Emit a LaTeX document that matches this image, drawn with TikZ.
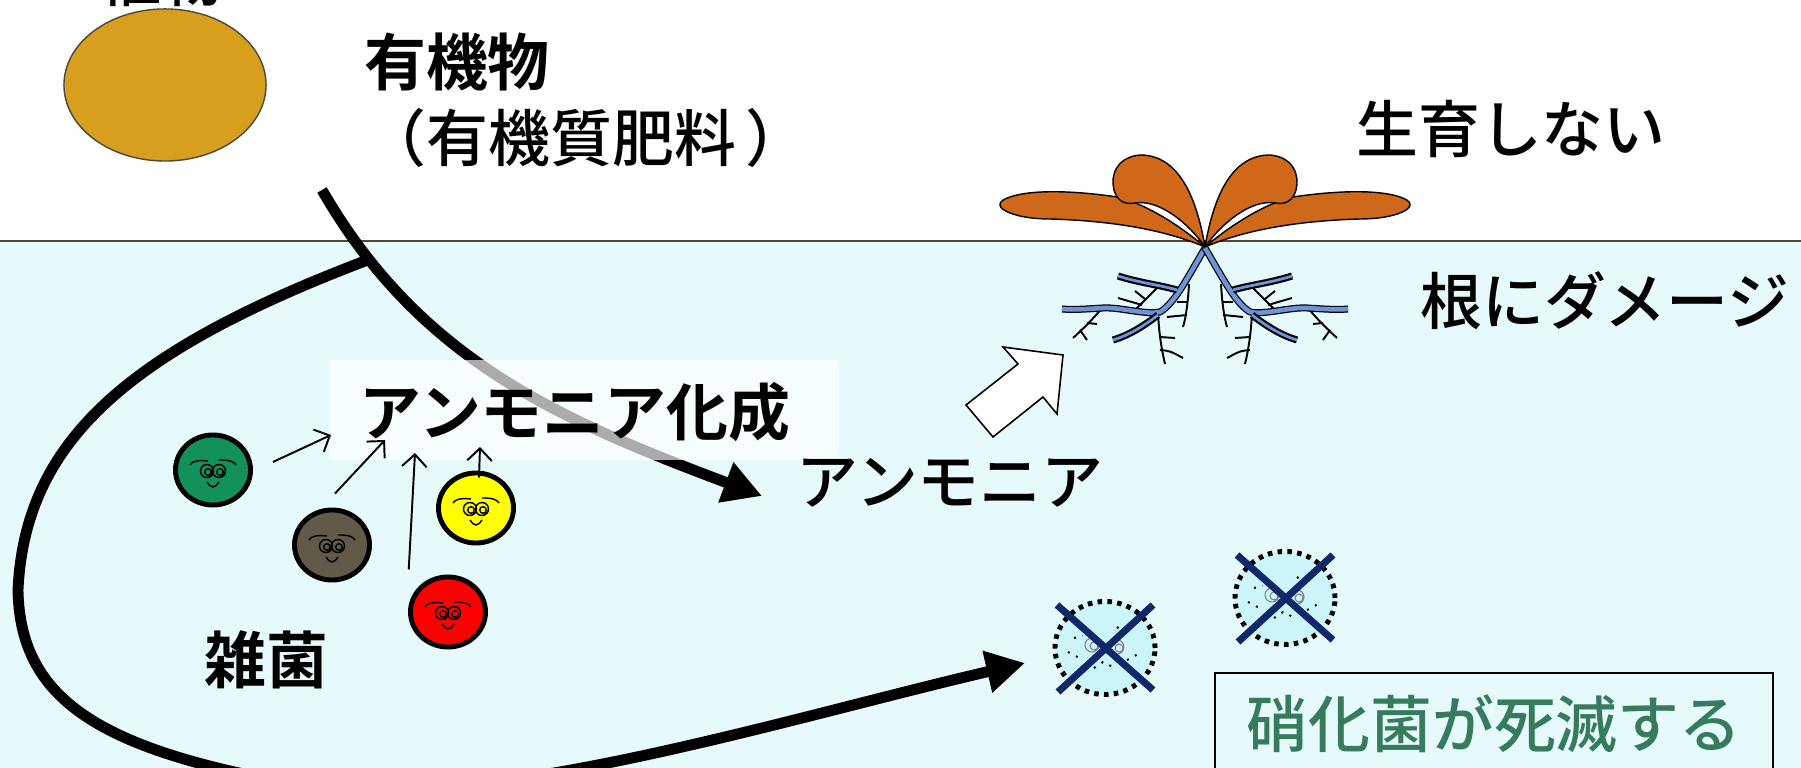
\documentclass[tikz,border=0pt]{standalone}
\usepackage{fontspec}
\newfontfamily\jp{Noto Sans CJK JP Medium}
\newfontfamily\jpheavy{Noto Sans CJK JP Bold}
\usetikzlibrary{arrows.meta,shapes.geometric}

\definecolor{soil}{HTML}{E6FAFC}
\definecolor{horizon}{HTML}{4A4A3C}
\definecolor{compost}{HTML}{D89E1E}
\definecolor{leafbrown}{HTML}{CF6818}
\definecolor{rootblue}{HTML}{6E94D8}
\definecolor{germgreen}{HTML}{12915A}
\definecolor{germbrown}{HTML}{625A48}
\definecolor{germred}{HTML}{FF0000}
\definecolor{germyellow}{HTML}{FFFF00}
\definecolor{deadfill}{HTML}{CCF5FA}
\definecolor{navy}{HTML}{10286A}
\definecolor{deadgreen}{HTML}{367B5B}

% one half of the seedling, leaves and roots, drawn from the stem base
\newcommand{\halfplant}{%
  \draw[leaf] (0,0) .. controls (-35,-15) and (-85,-26) .. (-155,-28)
    .. controls (-195,-28) and (-220,-42) .. (-195,-50)
    .. controls (-175,-57) and (-135,-57) .. (-88,-50)
    .. controls (-55,-42) and (-20,-17) .. (0,0) -- cycle;
  \draw[leaf] (0,0) .. controls (-8,-47) and (-25,-92) .. (-65,-92)
    .. controls (-88,-90) and (-95,-72) .. (-91,-57)
    .. controls (-88,-46) and (-80,-42) .. (-70,-44)
    .. controls (-45,-48) and (-15,-22) .. (0,0) -- cycle;
  \draw[twig] (-47,66) .. controls (-46,85) and (-44,100) .. (-40,117);
  \draw[twig] (-45,90) -- (-30,91);
  \draw[twig] (-45,103) .. controls (-35,104) .. (-22,111);
  \draw[twig] (-16,37) .. controls (-17,55) and (-19,70) .. (-22,80);
  \draw[twig] (-17,55) -- (-28,55);
  \draw[twig] (-18,68) -- (-38,70);
  \draw[twig] (-48,41) -- (-73,66);
  \draw[twig] (-60,52) -- (-70,44);
  \draw[twig] (-63,58) -- (-87,51);
  \draw[twig] (-103,61) .. controls (-112,72) and (-122,82) .. (-132,91);
  \draw[twig] (-118,76) -- (-108,77);
  \draw[twig] (-125,83) -- (-118,93);
  \draw[twig] (-87,29) .. controls (-82,33) .. (-78,34);
  \draw[root] (0,1) .. controls (-10,18) and (-20,36) .. (-27,46)
    .. controls (-33,55) and (-40,62) .. (-45,65)
    .. controls (-60,68) and (-85,60) .. (-102,61)
    .. controls (-118,62) and (-132,63) .. (-143,62);
  \draw[root, line width=0.8pt, preaction={line width=1.4pt}] (-47,68) .. controls (-60,78) and (-75,88) .. (-92,93);
  \draw[root, line width=0.8pt, preaction={line width=1.4pt}] (-28,43) .. controls (-45,38) and (-65,36) .. (-87,29);
}

\begin{document}
\begin{tikzpicture}
[
 x=0.01cm, y=-0.01cm,
 >={Straight Barb[length=3.5pt,width=7pt]},
 every node/.style={inner sep=0pt},
 txt/.style={font=\jp\fontsize{17.6pt}{21pt}\selectfont},
 txtb/.style={font=\jpheavy\fontsize{17.6pt}{21pt}\selectfont},
 bigarrow/.style={line width=3.1pt, -{Triangle[length=11pt,width=11.5pt]}},
 link/.style={line width=0.55pt, ->},
 body/.style={ellipse, draw, line width=1.4pt, minimum width=0.75cm, minimum height=0.70cm},
 face/.style={line width=0.4pt},
 deadbody/.style={ellipse, draw, fill=deadfill, line width=1.4pt, dash pattern=on 1.3pt off 1.5pt, minimum width=1.0cm, minimum height=0.93cm},
 cross/.style={draw=navy, line width=2pt},
 leaf/.style={draw=black, fill=leafbrown, line width=0.4pt},
 root/.style={draw=rootblue, line width=1.3pt, preaction={draw=black, line width=2pt}},
 twig/.style={draw=black, line width=0.55pt},
 pics/germ/.style={code={
   \node (-body) [body, fill=#1] {};
   \draw[face] (-23,-5) .. controls (-21,-9) and (-15,-10) .. (-5,-9);
   \draw[face] (6,-10) .. controls (15,-10) and (21,-9) .. (23,-5);
   \draw[face] (-6,1) circle[radius=0.065cm] (-5,2) circle[radius=0.033cm]
               (6,1) circle[radius=0.065cm] (7,2) circle[radius=0.033cm];
   \draw[face] (-6,12) .. controls (-3,16) .. (0,17) .. controls (3,16) .. (6,12);
 }},
 pics/deadgerm/.style={code={
   \node (-body) [deadbody] {};
   \draw[gray, line width=0.3pt] (-13,-3) circle[radius=0.07cm] (-11,-2) circle[radius=0.04cm]
               (12,-1) circle[radius=0.07cm] (14,0) circle[radius=0.04cm];
   \draw[dotted, line width=0.55pt] (-37,4) -- (-22,12) (22,12) -- (37,4)
               (-11,20) -- (-2,14) -- (10,20) (-31,-10) -- (-22,-12) (12,-21) -- (25,-11);
   \draw[cross] (-48,-43) -- (48,42) (48,-43) -- (-47,44);
 }}
]
\useasboundingbox (0,0) rectangle (1801,768);
\clip (0,0) rectangle (1801,768);

\fill[soil] (0,241) rectangle (1801,768);
\draw[horizon, line width=0.6pt] (0,241) -- (1801,241);

\node (plant-top) [txt] at (161,-22) {植物};
\node (compost) [ellipse, draw=horizon, fill=compost, line width=0.4pt, minimum width=2.02cm, minimum height=1.52cm] at (165,85) {};
\node (organic) [txtb] at (457,62) {有機物};
\node (organic-note) [txt] at (586,138) {（有機質肥料\hspace{0.15em}）};
\node (no-growth) [txt] at (1511,129) {生育しない};
\node (root-damage) [txt] at (1605,301) {根にダメージ};

\begin{scope}[shift={(1205,247)}]
 \halfplant
\end{scope}
\begin{scope}[shift={(1205,247)}, xscale=-1]
 \halfplant
\end{scope}

\coordinate (src) at (322,190);
\coordinate (to-ammonia) at (762,496);
\coordinate (to-dead) at (1025,663);
\draw[bigarrow] (src) .. controls (420,360) and (560,420) .. coordinate[pos=0.15] (junc) (to-ammonia);
\draw[bigarrow] (junc) .. controls (130,350) and (25,440) .. (18,590)
  .. controls (20,700) and (100,750) .. (300,785)
  .. controls (480,815) and (780,720) .. (to-dead);

\node (synth-back) [fill=white, fill opacity=0.67, minimum width=5.1cm, minimum height=0.99cm] at (584,410) {};
\node (synth) [txtb] at (575,412) {アンモニア化成};
\node (ammonia) [txt] at (950,483) {アンモニア};
\node (weeds) [txtb] at (266,660) {雑菌};

\pic (g-green) at (213,470) {germ=germgreen};
\pic (g-brown) at (332,545) {germ=germbrown};
\pic (g-red) at (448,612) {germ=germred};
\pic (g-yellow) at (476,508) {germ=germyellow};

\coordinate (to-green) at (331,435);
\coordinate (to-brown) at (385,440);
\coordinate (to-red) at (415,453);
\coordinate (to-yellow) at (480,447);
\draw[link] ([shift={(20,-8)}]g-green-body.east) -- (to-green);
\draw[link] ([shift={(3,-14)}]g-brown-body.north) -- (to-brown);
\draw[link] ([shift={(-11,-16)}]g-red-body.north west) -- (to-red);
\draw[link] ([shift={(3,7)}]g-yellow-body.north) -- (to-yellow);

\draw[fill=white, line width=0.45pt] (1003,347) -- (1063,355) -- (1057,414) -- (1043,397)
  -- (993,437) -- (966,405) -- (1018,364) -- cycle;

\pic (d-one) at (1105,648) {deadgerm};
\pic (d-two) at (1285,598) {deadgerm};

\node (nitrify) [txt, text=deadgreen, draw, line width=0.5pt, minimum width=5.58cm, minimum height=1.02cm] at (1494,724) {硝化菌が死滅する};
\end{tikzpicture}
\end{document}
